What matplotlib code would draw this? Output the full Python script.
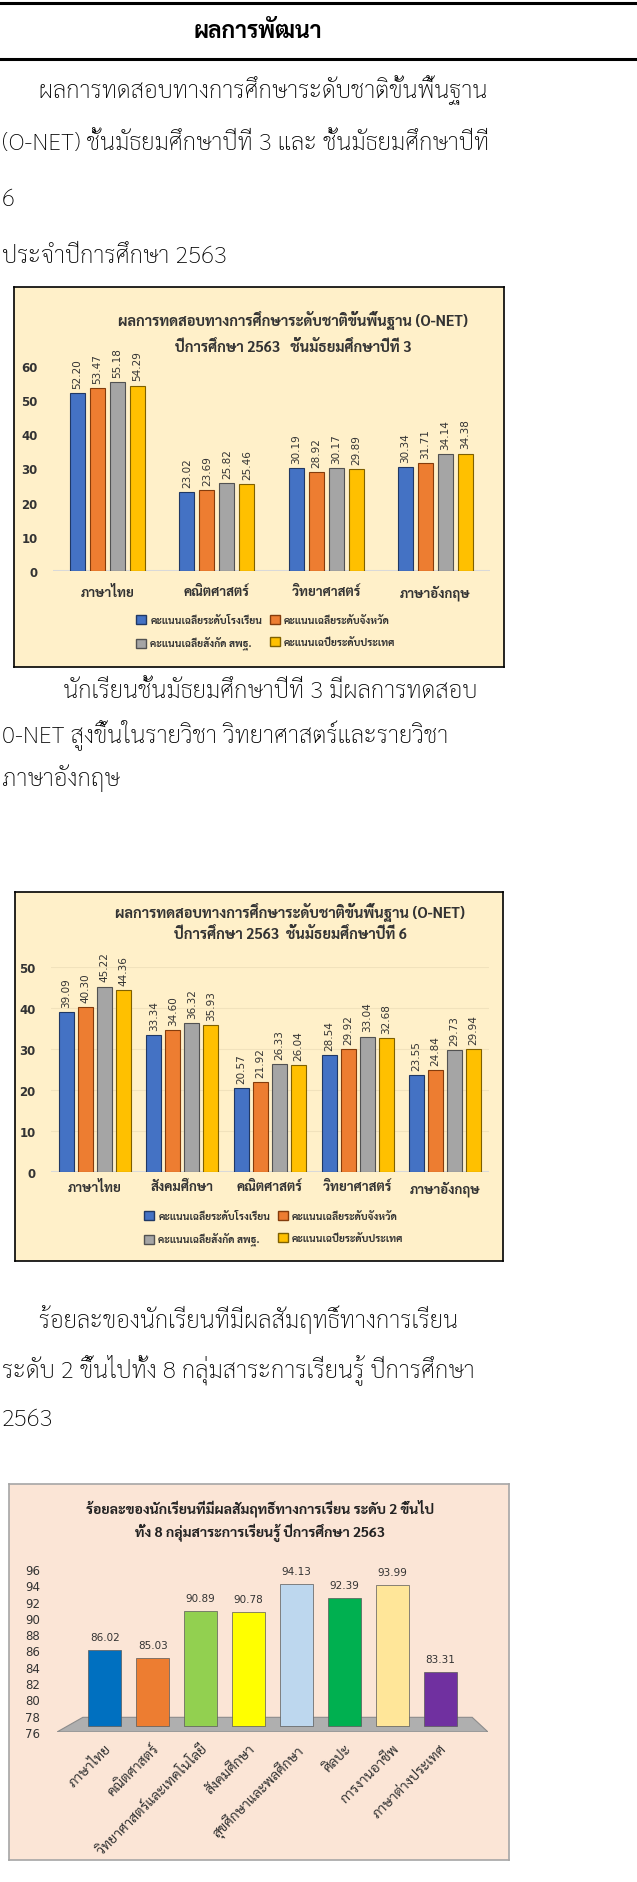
import matplotlib
matplotlib.use('Agg')
import matplotlib.pyplot as plt
from matplotlib.patches import Patch, Polygon
from matplotlib.lines import Line2D

# Thai font: Sarabun keeps the tone marks in place
BODY = ['Sarabun', 'DejaVu Sans']
plt.rcParams['font.family'] = BODY

# O-NET M.3 data
m3_subjects = ['ภาษาไทย', 'คณิตศาสตร์', 'วิทยาศาสตร์', 'ภาษาอังกฤษ']
m3_school = [52.20, 23.02, 30.19, 30.34]
m3_province = [53.47, 23.69, 28.92, 31.71]
m3_area = [55.18, 25.82, 30.17, 34.14]
m3_nation = [54.29, 25.46, 29.89, 34.38]

# O-NET M.6 data
m6_subjects = ['ภาษาไทย', 'สังคมศึกษา', 'คณิตศาสตร์', 'วิทยาศาสตร์', 'ภาษาอังกฤษ']
m6_school = [39.09, 33.34, 20.57, 28.54, 23.55]
m6_province = [40.30, 34.60, 21.92, 29.92, 24.84]
m6_area = [45.22, 36.32, 26.33, 33.04, 29.73]
m6_nation = [44.36, 35.93, 26.04, 32.68, 29.94]

series_names = ['คะแนนเฉลี่ยระดับโรงเรียน', 'คะแนนเฉลี่ยระดับจังหวัด',
                'คะแนนเฉลี่ยสังกัด สพฐ.', 'คะแนนเฉปี่ยระดับประเทศ']
series_colors = ['#4472C4', '#ED7D31', '#A5A5A5', '#FFC000']
series_edges = ['#203864', '#843C0C', '#525252', '#7F6000']

# Percentage of students at level 2 and up, 8 subject groups
groups = ['ภาษาไทย', 'คณิตศาสตร์', 'วิทยาศาสตร์และเทคโนโลยี', 'สังคมศึกษา',
          'สุขศึกษาและพลศึกษา', 'ศิลปะ', 'การงานอาชีพ', 'ภาษาต่างประเทศ']
group_pct = [86.02, 85.03, 90.89, 90.78, 94.13, 92.39, 93.99, 83.31]
group_colors = ['#0070C0', '#ED7D31', '#92D050', '#FFFF00',
                '#BDD7EE', '#00B050', '#FFE699', '#7030A0']

W, H = 637, 1883


def fx(x):
    return x / W


def fy(y):
    return 1 - y / H


def rect(x0, y0, x1, y1):
    return [x0 / W, 1 - y1 / H, (x1 - x0) / W, (y1 - y0) / H]


def box(x0, y0, x1, y1, face, edge):
    """Background panel behind a chart."""
    bg = fig.add_axes(rect(x0, y0, x1, y1))
    bg.set_facecolor(face)
    bg.set_xticks([])
    bg.set_yticks([])
    for spine in bg.spines.values():
        spine.set_edgecolor(edge)
        spine.set_linewidth(1.2)
    return bg


def onet_chart(pos, subjects, series, ymax, step, grid, lab_pad, leg_xy):
    ax = fig.add_axes(pos)
    ax.set_facecolor('none')
    n = len(subjects)
    xs = list(range(n))
    width = 0.137 if n == 4 else 0.171
    gap = 0.183 if n == 4 else 0.217
    for k, vals in enumerate(series):
        bx = [x + (k - 1.5) * gap for x in xs]
        ax.bar(bx, vals, width, color=series_colors[k],
               edgecolor=series_edges[k], linewidth=0.8,
               label=series_names[k], zorder=3)
        for x, v in zip(bx, vals):
            ax.text(x, v + ymax * 0.025, f'{v:.2f}', rotation=90,
                    ha='center', va='bottom', fontsize=7.5,
                    color='#333333', family='DejaVu Sans')
    ax.set_xlim(-0.5, n - 0.5)
    ax.set_ylim(0, ymax)
    ax.set_yticks(range(0, ymax + 1, step))
    ax.set_xticks(xs)
    ax.set_xticklabels(subjects, fontsize=9.5, fontweight='bold',
                       color='#333333')
    ax.tick_params(axis='y', length=0, pad=11, labelsize=8.5,
                   labelcolor='#333333')
    ax.tick_params(axis='x', length=0, pad=lab_pad)
    for lbl in ax.get_yticklabels():
        lbl.set_family('DejaVu Sans')
        lbl.set_fontweight('bold')
    for spine in ax.spines.values():
        spine.set_visible(False)
    if grid:
        ax.grid(axis='y', color='#F1E2BC', linewidth=0.8, zorder=0)
    ax.axhline(0, color='#D9D9D9', linewidth=1.5, zorder=2)
    order = [0, 2, 1, 3]
    handles = [Patch(facecolor=series_colors[i], edgecolor=series_edges[i],
                     label=series_names[i]) for i in order]
    ax.legend(handles=handles, loc='upper left',
              bbox_to_anchor=(fx(leg_xy[0]), fy(leg_xy[1])),
              bbox_transform=fig.transFigure, ncol=2, frameon=False,
              prop={'size': 7.4, 'weight': 'bold', 'family': BODY},
              handlelength=1.0, handleheight=1.0,
              handletextpad=0.4, columnspacing=0.7, labelspacing=1.15,
              borderpad=0, borderaxespad=0, labelcolor='#333333')
    return ax


fig = plt.figure(figsize=(W / 100, H / 100), dpi=100)
fig.patch.set_facecolor('white')

# Heading rules and title
for yy in (4, 60):
    fig.add_artist(Line2D([0, 1], [fy(yy), fy(yy)], color='black',
                          linewidth=2.2, transform=fig.transFigure))
fig.text(fx(258), fy(32), 'ผลการพัฒนา', ha='center', va='center',
         fontsize=16.5, fontweight='bold')

body = 17.3
para1 = ['      ผลการทดสอบทางการศึกษาระดับชาติขั้นพื้นฐาน',
         '(O-NET) ชั้นมัธยมศึกษาปีที่ 3 และ ชั้นมัธยมศึกษาปีที่',
         '6',
         'ประจำปีการศึกษา 2563']
for line, yy in zip(para1, [90, 143, 200, 257]):
    fig.text(fx(2), fy(yy), line, ha='left', va='center', fontsize=body,
             fontweight='light')

# Chart 1: O-NET M.3
box(14, 288, 504, 668, '#FFF0C9', 'black')
fig.text(fx(293), fy(320), 'ผลการทดสอบทางการศึกษาระดับชาติขั้นพื้นฐาน (O-NET)',
         ha='center', va='center', fontsize=10.5, fontweight='bold', color='#333333')
fig.text(fx(293), fy(347), 'ปีการศึกษา 2563   ชั้นมัธยมศึกษาปีที่ 3',
         ha='center', va='center', fontsize=10.5, fontweight='bold', color='#333333')
onet_chart(rect(53, 367, 490, 572), m3_subjects,
           [m3_school, m3_province, m3_area, m3_nation], 60, 10, False, 10,
           (136, 616))

para2 = ['          นักเรียนชั้นมัธยมศึกษาปีที่ 3 มีผลการทดสอบ',
         '0-NET สูงขึ้นในรายวิชา วิทยาศาสตร์และรายวิชา',
         'ภาษาอังกฤษ']
for line, yy in zip(para2, [692, 735, 778]):
    fig.text(fx(2), fy(yy), line, ha='left', va='center', fontsize=body,
             fontweight='light')

# Chart 2: O-NET M.6
box(15, 893, 503, 1262, '#FFF0C9', 'black')
fig.text(fx(290), fy(912), 'ผลการทดสอบทางการศึกษาระดับชาติขั้นพื้นฐาน (O-NET)',
         ha='center', va='center', fontsize=10.5, fontweight='bold', color='#333333')
fig.text(fx(290), fy(935), 'ปีการศึกษา 2563  ชั้นมัธยมศึกษาปีที่ 6',
         ha='center', va='center', fontsize=10.5, fontweight='bold', color='#333333')
onet_chart(rect(51, 968, 489, 1173), m6_subjects,
           [m6_school, m6_province, m6_area, m6_nation], 50, 10, True, 6,
           (144, 1212))

para3 = ['      ร้อยละของนักเรียนที่มีผลสัมฤทธิ์ทางการเรียน',
         'ระดับ 2 ขึ้นไปทั้ง 8 กลุ่มสาระการเรียนรู้ ปีการศึกษา',
         '2563']
for line, yy in zip(para3, [1320, 1370, 1420]):
    fig.text(fx(2), fy(yy), line, ha='left', va='center', fontsize=body,
             fontweight='light')

# Chart 3: percentage by subject group
box(9, 1485, 509, 1861, '#FBE5D6', '#A6A6A6')
fig.text(fx(260), fy(1508), 'ร้อยละของนักเรียนที่มีผลสัมฤทธิ์ทางการเรียน ระดับ 2 ขึ้นไป',
         ha='center', va='center', fontsize=10.2, fontweight='bold', color='#222222')
fig.text(fx(260), fy(1533), 'ทั้ง 8 กลุ่มสาระการเรียนรู้ ปีการศึกษา 2563',
         ha='center', va='center', fontsize=10.2, fontweight='bold', color='#222222')

ax3 = fig.add_axes(rect(57, 1570, 488, 1733))
ax3.set_facecolor('none')
base = 76.7
xs = list(range(len(groups)))
ax3.add_patch(Polygon([(-1, 76), (8, 76), (7.67, 77.8), (-0.46, 77.8)],
                      closed=True, facecolor='#AFAFAF', edgecolor='#8C8C8C',
                      linewidth=0.8, zorder=1))
ax3.bar(xs, [v - base for v in group_pct], 0.69, bottom=base,
        color=group_colors, edgecolor='#595959', linewidth=0.5, zorder=3)
for x, v in zip(xs, group_pct):
    ax3.text(x, v + 1.6, f'{v:.2f}', ha='center', va='center', fontsize=7.5,
             color='#333333', family='DejaVu Sans')
ax3.set_xlim(-1, 8)
ax3.set_ylim(76, 96)
ax3.set_yticks(range(76, 97, 2))
ax3.set_xticks(xs)
ax3.set_xticklabels(groups, rotation=45, ha='right', rotation_mode='anchor',
                    fontsize=10, color='#333333')
ax3.tick_params(axis='y', length=0, pad=12, labelsize=8.5,
                labelcolor='#333333')
ax3.tick_params(axis='x', length=0, pad=7)
for lbl in ax3.get_yticklabels():
    lbl.set_family('DejaVu Sans')
for spine in ax3.spines.values():
    spine.set_visible(False)

fig.savefig('out.png', dpi=100)
